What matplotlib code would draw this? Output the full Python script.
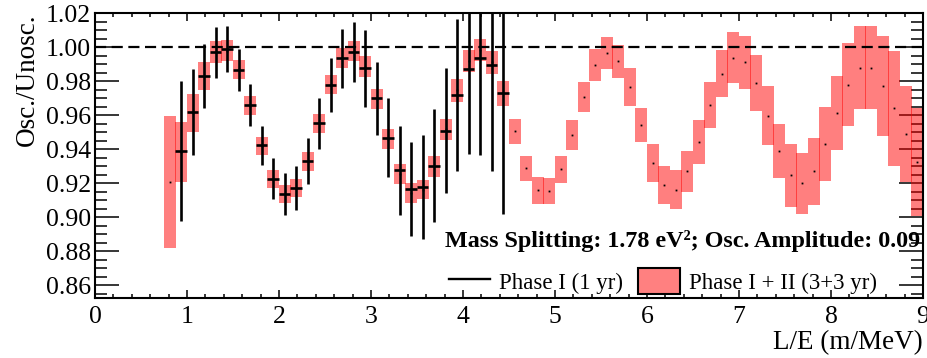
import numpy as np
import matplotlib
matplotlib.use('Agg')
import matplotlib.pyplot as plt
from matplotlib.patches import Patch
from matplotlib.lines import Line2D
from matplotlib.ticker import MultipleLocator

plt.rcParams['font.family'] = ['Liberation Serif', 'DejaVu Serif']

# binning in L/E (m/MeV)
bin_width = 0.125
first_bin = 0.8125

# Phase I + II (3+3 yr): ratio per bin and half-height of the error box
ratio_12 = [0.9207, 0.9382, 0.9613, 0.9830, 0.9969, 0.9979, 0.9868, 0.9656, 0.9419, 0.9225,
            0.9136, 0.9172, 0.9327, 0.9551, 0.9779, 0.9935, 0.9977, 0.9885, 0.9695, 0.9459,
            0.9254, 0.9142, 0.9160, 0.9298, 0.9516, 0.9745, 0.9918, 0.9982, 0.9909, 0.9727,
            0.9505, 0.9286, 0.9157, 0.9154, 0.9281, 0.9483, 0.9708, 0.9892, 0.9966, 0.9917,
            0.9766, 0.9542, 0.9319, 0.9189, 0.9162, 0.9268, 0.9441, 0.9660, 0.9843, 0.9938,
            0.9910, 0.9788, 0.9597, 0.9389, 0.9245, 0.9198, 0.9269, 0.9429, 0.9612, 0.9779,
            0.9878, 0.9878, 0.9771, 0.9639, 0.9487, 0.9326]
err_12 = [0.0387, 0.0175, 0.0111, 0.0081, 0.0065, 0.0062, 0.0056, 0.0056, 0.0054, 0.0052,
          0.0052, 0.0052, 0.0055, 0.0057, 0.0056, 0.0057, 0.0058, 0.0062, 0.0058, 0.0059,
          0.0058, 0.0058, 0.0056, 0.0061, 0.0063, 0.0067, 0.0065, 0.0065, 0.0070, 0.0073,
          0.0074, 0.0075, 0.0078, 0.0075, 0.0079, 0.0087, 0.0088, 0.0094, 0.0093, 0.0097,
          0.0111, 0.0099, 0.0111, 0.0111, 0.0115, 0.0121, 0.0129, 0.0134, 0.0137, 0.0148,
          0.0155, 0.0165, 0.0174, 0.0158, 0.0184, 0.0178, 0.0196, 0.0218, 0.0218, 0.0244,
          0.0245, 0.0245, 0.0294, 0.0337, 0.0283, 0.0317]

# Phase I (1 yr), starts at the second bin
ratio_1 = [0.9388, 0.9618, 0.9828, 0.9969, 0.9986, 0.9867, 0.9659, 0.9421, 0.9226, 0.9137,
           0.9172, 0.9327, 0.9551, 0.9776, 0.9933, 0.9969, 0.9875, 0.9698, 0.9467, 0.9275,
           0.9167, 0.9178, 0.9302, 0.9508, 0.9718, 0.9869, 0.9937, 0.9892, 0.9731]
err_1 = [0.0412, 0.0255, 0.0187, 0.0150, 0.0135, 0.0124, 0.0122, 0.0117, 0.0120, 0.0123,
         0.0129, 0.0135, 0.0148, 0.0158, 0.0175, 0.0176, 0.0225, 0.0213, 0.0233, 0.0260,
         0.0277, 0.0307, 0.0334, 0.0366, 0.0448, 0.0500, 0.0573, 0.0620, 0.0712]

x_12 = first_bin + bin_width * np.arange(len(ratio_12))
x_1 = x_12[1:1 + len(ratio_1)]
ratio_12 = np.array(ratio_12)
err_12 = np.array(err_12)

fig = plt.figure(figsize=(9.28, 3.58), dpi=100)
ax = fig.add_axes([95 / 928, 60 / 358, 828 / 928, 285 / 358])

# shaded boxes for Phase I + II
ax.bar(x_12, 2 * err_12, bottom=ratio_12 - err_12, width=bin_width + 0.008,
       color='red', alpha=0.5, linewidth=0, zorder=2)
ax.plot(x_12, ratio_12, 's', color='black', ms=1.3, mew=0, zorder=3)

# Phase I crosses
ax.errorbar(x_1, ratio_1, yerr=err_1, xerr=bin_width / 2, fmt='none',
            ecolor='black', elinewidth=1.9, capsize=0, zorder=4)

ax.axhline(1.0, color='black', lw=1.6, ls=(0, (5, 2.5)), zorder=5)

ax.set_xlim(0, 9)
ax.set_ylim(0.8524, 1.02)
ax.xaxis.set_major_locator(MultipleLocator(1))
ax.xaxis.set_minor_locator(MultipleLocator(0.2))
ax.yaxis.set_major_locator(MultipleLocator(0.02))
ax.yaxis.set_minor_locator(MultipleLocator(0.005))
ax.yaxis.set_major_formatter(plt.FormatStrFormatter('%.2f'))

ax.tick_params(which='both', direction='in', top=True, right=True, width=1.1,
               labelsize=18.5)
ax.xaxis.set_tick_params(which='major', length=6, pad=6)
ax.xaxis.set_tick_params(which='minor', length=3)
ax.yaxis.set_tick_params(which='major', length=17, pad=3)
ax.yaxis.set_tick_params(which='minor', length=8.5)
for s in ax.spines.values():
    s.set_linewidth(1.5)

ax.set_xlabel('L/E (m/MeV)', fontsize=19.5, loc='right', labelpad=1)
ax.set_ylabel('Osc./Unosc.', fontsize=19.5, loc='top', labelpad=4)

ax.text(8.97, 0.8824, 'Mass Splitting: 1.78 eV²; Osc. Amplitude: 0.09',
        ha='right', va='baseline', fontsize=17.4, fontweight='bold', zorder=6)

handles = [Line2D([], [], color='black', lw=1.7),
           Patch(facecolor='#ff8080', edgecolor='black', linewidth=1.5)]
labels = ['Phase I (1 yr)', 'Phase I + II (3+3 yr)']
ax.legend(handles, labels, ncol=2, frameon=False, loc='lower left',
          bbox_to_anchor=(0.4275, 0.014), borderpad=0, borderaxespad=0,
          fontsize=16.5, handlelength=1.8, handleheight=1.35,
          handletextpad=0.4, columnspacing=0.65)

fig.savefig('out.png', dpi=100)
